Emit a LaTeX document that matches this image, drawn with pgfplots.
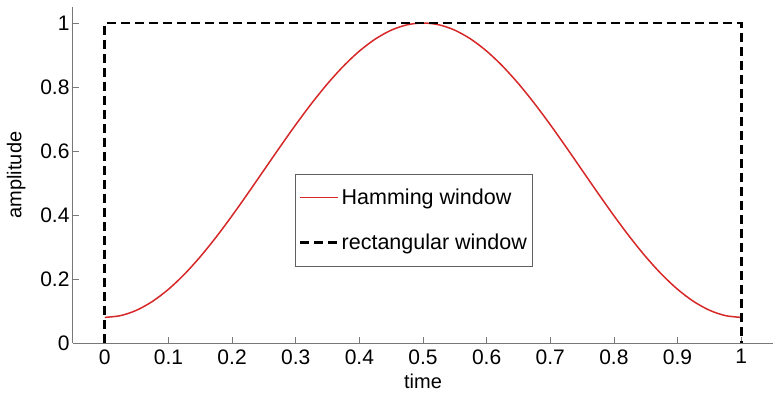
\documentclass[border=0pt]{standalone}
\usepackage{pgfplots}
\pgfplotsset{compat=1.18}
\usepackage{fontspec}
\setmainfont{Liberation Sans}

\definecolor{hamred}{RGB}{214,40,40}
\definecolor{axgray}{RGB}{120,120,120}

\begin{document}
\begin{tikzpicture}
\begin{axis}[
  name=ax,
  scale only axis,
  width=700pt, height=336pt,
  xmin=-0.05, xmax=1.05,
  ymin=0, ymax=1.05,
  axis x line=bottom, axis y line=left,
  axis line style={-, draw=axgray, line width=1pt},
  xtick={0,0.1,...,1.0},
  ytick={0,0.2,0.4,0.6,0.8,1},
  tick style={draw=axgray, line width=0.8pt},
  tick align=inside,
  major tick length=6pt,
  /pgf/number format/assume math mode=true,
  ticklabel style={font=\fontsize{21}{24}\selectfont, black},
  xticklabel style={yshift=-3pt},
  label style={font=\fontsize{20}{24}\selectfont},
  xlabel={time},
  ylabel={amplitude},
  xlabel style={yshift=-3pt},
  ylabel style={yshift=8pt},
  legend style={
    at={(rel axis cs:0.487,0.366)}, anchor=center,
    draw=axgray!80!black, line width=0.8pt,
    font=\fontsize{21.5}{24}\selectfont,
    row sep=24pt, inner xsep=3pt, inner ysep=13pt,
    cells={anchor=west},
  },
  legend image code/.code={
    \draw[#1] (0pt,0pt) -- (38pt,0pt);
  },
]
% Hamming window samples
\addplot[hamred, line width=1.5pt, smooth] coordinates {
  (0,0.08000) (0.025,0.08566) (0.05,0.10251) (0.075,0.13014)
  (0.1,0.16785) (0.125,0.21473) (0.15,0.26962) (0.175,0.33116)
  (0.2,0.39785) (0.225,0.46804) (0.25,0.54000) (0.275,0.61196)
  (0.3,0.68215) (0.325,0.74884) (0.35,0.81038) (0.375,0.86527)
  (0.4,0.91215) (0.425,0.94986) (0.45,0.97749) (0.475,0.99434)
  (0.5,1.00000)
  (0.525,0.99434) (0.55,0.97749) (0.575,0.94986) (0.6,0.91215)
  (0.625,0.86527) (0.65,0.81038) (0.675,0.74884) (0.7,0.68215)
  (0.725,0.61196) (0.75,0.54000) (0.775,0.46804) (0.8,0.39785)
  (0.825,0.33116) (0.85,0.26962) (0.875,0.21473) (0.9,0.16785)
  (0.925,0.13014) (0.95,0.10251) (0.975,0.08566) (1,0.08000)
};
\addlegendentry{Hamming window}
% rectangular window
\addplot[black, line width=2.8pt, dash pattern=on 9pt off 5pt] coordinates {
  (0,0) (0,1) (1,1) (1,0)
};
\addlegendentry{rectangular window}
\end{axis}
\pgfresetboundingbox
\path ([shift={(-73pt,-53pt)}]ax.south west) rectangle ([shift={(0pt,7pt)}]ax.north east);
\end{tikzpicture}
\end{document}
